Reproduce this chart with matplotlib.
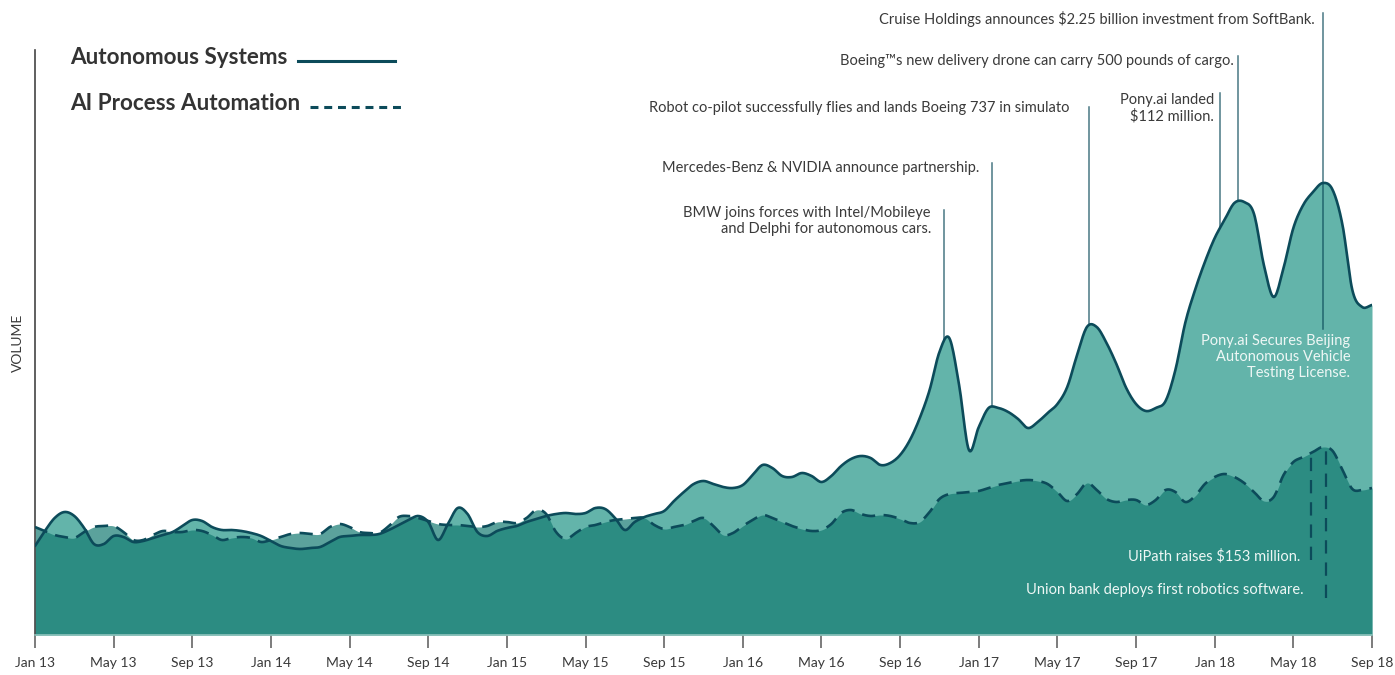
import numpy as np
import matplotlib
matplotlib.use("Agg")
import matplotlib.pyplot as plt
from matplotlib.lines import Line2D

# semi-monthly search volume, Jan 2013 .. Sep 2018
autonomous = [
    89, 104, 117, 123, 119, 107, 91, 91, 99, 98, 93, 94, 97, 100, 103, 109,
    115, 114, 108, 105, 105, 104, 102, 99, 94, 89, 87, 86, 87, 88, 93, 98,
    99, 100, 100, 101, 105, 110, 115, 119, 113, 95, 111, 127, 121, 103, 99, 104,
    107, 109, 113, 116, 119, 121, 122, 121, 122, 127, 126, 117, 105, 113, 118, 121,
    124, 134, 143, 151, 154, 151, 148, 147, 150, 160, 170, 167, 159, 158, 162, 159,
    153, 159, 169, 176, 179, 177, 170, 172, 180, 195, 217, 245, 283, 297, 250, 185,
    208, 227, 227, 223, 216, 207, 213, 222, 231, 248, 280, 308, 308, 292, 271, 247,
    231, 224, 227, 234, 265, 312, 345, 373, 397, 415, 432, 433, 421, 370, 338, 367,
    407, 430, 443, 452, 445, 410, 345, 328, 330,
]
ai_process = [
    108, 104, 100, 98, 97, 103, 108, 109, 109, 103, 95, 95, 100, 104, 103, 103,
    105, 104, 100, 95, 97, 98, 97, 93, 95, 98, 101, 102, 101, 101, 108, 111,
    108, 103, 102, 102, 109, 118, 119, 117, 114, 111, 110, 110, 109, 108, 109, 113,
    113, 112, 117, 125, 121, 103, 96, 102, 108, 110, 113, 115, 116, 117, 117, 110,
    106, 108, 110, 114, 117, 109, 100, 102, 109, 115, 120, 117, 113, 109, 106, 104,
    105, 111, 122, 125, 121, 119, 120, 119, 116, 112, 113, 123, 136, 141, 142, 143,
    144, 147, 150, 152, 154, 155, 154, 151, 143, 134, 141, 152, 145, 136, 133, 135,
    135, 130, 135, 145, 143, 133, 139, 151, 158, 161, 158, 152, 143, 134, 138, 160,
    173, 178, 183, 188, 184, 165, 146, 145, 147,
]
months = np.arange(len(autonomous)) / 2.0

tick_labels = ["Jan 13", "May 13", "Sep 13", "Jan 14", "May 14", "Sep 14",
               "Jan 15", "May 15", "Sep 15", "Jan 16", "May 16", "Sep 16",
               "Jan 17", "May 17", "Sep 17", "Jan 18", "May 18", "Sep 18"]

# event month (fractional), label
events_top = [
    (46.24, "BMW joins forces with Intel/Mobileye\nand Delphi for autonomous cars."),
    (48.68, "Mercedes-Benz & NVIDIA announce partnership."),
    (53.60, "Robot co-pilot successfully flies and lands Boeing 737 in simulato"),
    (60.27, "Pony.ai landed\n$112 million."),
    (61.19, "Boeing\u2122s new delivery drone can carry 500 pounds of cargo."),
    (65.50, "Cruise Holdings announces $2.25 billion investment from SoftBank."),
]
events_ai = [
    (64.90, "UiPath raises $153 million."),
    (65.66, "Union bank deploys first robotics software."),
]

LIGHT = "#63b4aa"
DARK = "#157b72"
LINE = "#0c4b5a"
TEXT = "#3a3a3a"
plt.rcParams["font.family"] = ["Lato", "DejaVu Sans"]


def smooth(x, y, n=12):
    x = np.asarray(x, float)
    y = np.asarray(y, float)
    m = np.gradient(y, x)
    xs, ys = [], []
    t = np.linspace(0, 1, n, endpoint=False)
    h00 = 2 * t**3 - 3 * t**2 + 1
    h10 = t**3 - 2 * t**2 + t
    h01 = -2 * t**3 + 3 * t**2
    h11 = t**3 - t**2
    for i in range(len(x) - 1):
        h = x[i + 1] - x[i]
        xs.append(x[i] + t * h)
        ys.append(h00 * y[i] + h10 * h * m[i] + h01 * y[i + 1] + h11 * h * m[i + 1])
    xs.append([x[-1]])
    ys.append([y[-1]])
    return np.concatenate(xs), np.concatenate(ys)


fig = plt.figure(figsize=(13.95, 6.75), dpi=100)
ax = fig.add_axes([35 / 1395, 40 / 675, (1372 - 35) / 1395, 635 / 675])

xa, ya = smooth(months, autonomous)
xb, yb = smooth(months, ai_process)

ax.fill_between(xa, 0, ya, color=LIGHT, lw=0, zorder=1)
ax.fill_between(xb, 0, yb, color=DARK, alpha=0.7, lw=0, zorder=2)
ax.plot(xa, ya, color=LINE, lw=1.9, zorder=4, solid_capstyle="round")
ax.plot(xb, yb, color=LINE, lw=1.9, dashes=(5, 3.2), zorder=4)

ax.set_xlim(0, 68)
ax.set_ylim(0, 635)
ax.set_xticks(np.arange(0, 69, 4))
ax.set_xticklabels(tick_labels)
ax.set_yticks([])
ax.tick_params(axis="x", length=9, width=1.2, color="#666666", pad=7,
               labelsize=10, labelcolor=TEXT)
for s in ["top", "right"]:
    ax.spines[s].set_visible(False)
ax.spines["left"].set_bounds(0, 585)
ax.spines["left"].set_color("#444444")
ax.spines["left"].set_linewidth(1.2)
ax.spines["bottom"].set_color("#8fc4bd")
ax.spines["bottom"].set_linewidth(1.2)
ax.patch.set_alpha(0)

# event markers above the autonomous curve
top_y = [425, 472, 528, 542, 579, 622]
text_dx = [0.67, 0.66, 1.0, 0.30, 0.20, 0.40]
text_y = [414, 467, 527, 527, 574, 616]
for (m, label), ty, dx, ly in zip(events_top, top_y, text_dx, text_y):
    bottom = np.interp(m, xa, ya)
    if label.startswith("Cruise"):
        bottom = 306
    ax.plot([m, m], [bottom, ty], color=LINE, lw=1.1, alpha=0.75, zorder=5)
    ax.text(m - dx, ly, label, ha="right", va="center", fontsize=10.5,
            color=TEXT, linespacing=1.15, zorder=6)

ax.text(66.89, 278, "Pony.ai Secures Beijing\nAutonomous Vehicle\nTesting License.",
        ha="right", va="center", fontsize=10.5, color="#eef7f5",
        linespacing=1.15, zorder=6)

low_y = [75, 37]
text_pos = [(64.34, 79), (64.50, 45)]
for (m, label), lo, (tx, ty) in zip(events_ai, low_y, text_pos):
    top = np.interp(m, xb, yb)
    ax.plot([m, m], [lo, top], color=LINE, lw=1.6, dashes=(6, 4), zorder=5)
    ax.text(tx, ty, label, ha="right", va="center", fontsize=10.5,
            color="#eef7f5", zorder=6)

# legend drawn by hand
fig.text(70 / 1395, 1 - 58 / 675, "Autonomous Systems", fontsize=16.2,
         fontweight="bold", color="#333333", va="center", ha="left")
fig.text(70 / 1395, 1 - 104 / 675, "AI Process Automation", fontsize=16.2,
         fontweight="bold", color="#333333", va="center", ha="left")
fig.add_artist(Line2D([298 / 1395, 395 / 1395], [1 - 61 / 675, 1 - 61 / 675],
                      transform=fig.transFigure, color=LINE, lw=2.2))
fig.add_artist(Line2D([310 / 1395, 405 / 1395], [1 - 107 / 675, 1 - 107 / 675],
                      transform=fig.transFigure, color=LINE, lw=2.2,
                      dashes=(2.6, 1.9)))

fig.text(18 / 1395, 1 - 343 / 675, "VOLUME", rotation=90, fontsize=10,
         color=TEXT, va="center", ha="center")

fig.savefig("out.png", dpi=100)
